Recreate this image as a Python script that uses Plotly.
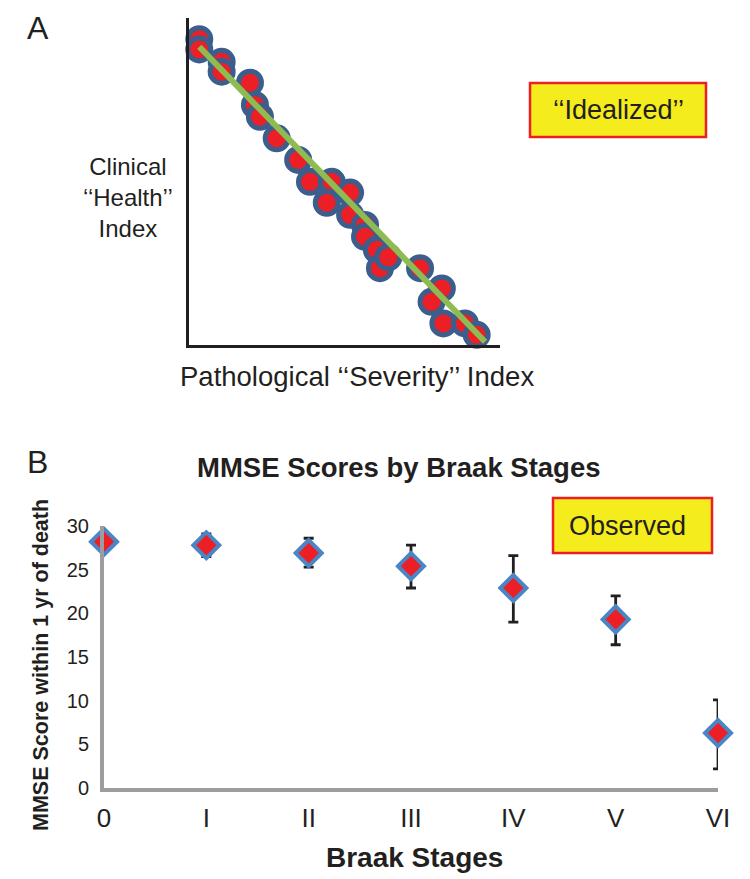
import plotly.graph_objects as go

# panel A - idealized scatter (arbitrary index units, 0-100)
severity = [3.3, 3.3, 10.5, 10.5, 19.6, 21.2, 22.8, 28.2, 35.1, 38.9, 45.9, 51.8, 44.3,
            51.8, 56.6, 56.6, 60.4, 61.4, 64.1, 74.3, 81.3, 78.0, 81.8, 88.7, 92.5]
health = [93.5, 90.4, 86.6, 83.6, 80.2, 73.4, 69.8, 63.2, 56.6, 49.9, 49.9, 46.6, 43.5,
          39.8, 36.7, 33.1, 29.1, 23.5, 26.8, 23.5, 17.3, 13.2, 6.6, 6.6, 3.1]
fit_x = [3.3, 95.2]
fit_y = [91.2, 1.0]

# panel B - observed MMSE by Braak stage
stages = ["0", "I", "II", "III", "IV", "V", "VI"]
mmse = [28.2, 27.8, 26.9, 25.4, 22.9, 19.3, 6.3]
err_up = [0, 1.3, 1.7, 2.4, 3.7, 2.7, 3.8]
err_down = [0, 1.3, 1.6, 2.5, 3.9, 2.9, 4.1]

FONT = "Arial, Liberation Sans, sans-serif"
RED = "#ec1f26"
INK = "#231f20"
# the page body has an 8px margin, so the figure is drawn 8px smaller and offset
OFF = 8
W, H = 750 - OFF, 879 - OFF


def px(x):
    return (x - OFF) / W


def py(y):
    return 1 - (y - OFF) / H


fig = go.Figure()

fig.add_trace(go.Scatter(
    x=severity, y=health, mode="markers", xaxis="x", yaxis="y",
    marker=dict(size=23, color=RED, line=dict(color="#3b5e8c", width=5)),
    cliponaxis=False, showlegend=False))
fig.add_trace(go.Scatter(
    x=fit_x, y=fit_y, mode="lines", xaxis="x", yaxis="y",
    line=dict(color="#8fbc52", width=6), cliponaxis=False, showlegend=False))

fig.add_trace(go.Scatter(
    x=list(range(len(stages))), y=mmse, mode="markers", xaxis="x2", yaxis="y2",
    marker=dict(symbol="diamond", size=20, color=RED, line=dict(color="#4a86c6", width=4)),
    error_y=dict(type="data", symmetric=False, array=err_up, arrayminus=err_down,
                 color=INK, thickness=2.8, width=5),
    cliponaxis=False, showlegend=False))

fig.update_layout(
    width=W, height=H,
    margin=dict(l=0, r=0, t=0, b=0, autoexpand=False),
    paper_bgcolor="white", plot_bgcolor="white",
    font=dict(family=FONT, color=INK),
    xaxis=dict(domain=[px(189), px(500)], range=[0, 100], showgrid=False, zeroline=False,
               showticklabels=False, showline=True, linecolor=INK, linewidth=3,
               automargin=False),
    yaxis=dict(domain=[py(345), py(18)], range=[0, 100], showgrid=False, zeroline=False,
               showticklabels=False, showline=True, linecolor=INK, linewidth=3,
               automargin=False),
    xaxis2=dict(domain=[px(104), px(718)], range=[0, 6], showgrid=False, zeroline=False,
                showline=True, linecolor="#9d9d9d", linewidth=4, anchor="y2",
                tickmode="array", tickvals=list(range(len(stages))), ticktext=stages,
                tickfont=dict(size=26, color=INK), ticks="", ticklabelstandoff=4,
                automargin=False),
    yaxis2=dict(domain=[py(788), py(526)], range=[0, 30], showgrid=False, zeroline=False,
                showline=True, linecolor="#9d9d9d", linewidth=4, anchor="x2",
                tickvals=[0, 5, 10, 15, 20, 25, 30], ticks="",
                tickfont=dict(size=20, color=INK), ticklabelstandoff=7,
                automargin=False),
)

annots = [
    dict(x=38, y=28, text="A", size=32),
    dict(x=38, y=462, text="B", size=32),
    dict(x=128, y=197, text="Clinical<br>\u2018\u2018Health\u2019\u2019<br>Index", size=24),
    dict(x=357, y=376, text="Pathological \u2018\u2018Severity\u2019\u2019 Index", size=27.5),
    dict(x=399, y=467, text="<b>MMSE Scores by Braak Stages</b>", size=27.5),
    dict(x=415, y=857, text="<b>Braak Stages</b>", size=28),
    dict(x=41, y=665, text="<b>MMSE Score within 1 yr of death</b>", size=21.5, angle=-90),
]
for a in annots:
    fig.add_annotation(x=px(a["x"]), y=py(a["y"]), xref="paper", yref="paper",
                       text=a["text"], showarrow=False, xanchor="center", yanchor="middle",
                       textangle=a.get("angle", 0),
                       font=dict(size=a["size"], family=FONT, color=INK))

# label boxes
boxes = [
    (530, 83, 706, 137, 618, "\u2018\u2018Idealized\u2019\u2019"),
    (553, 498, 712, 553, 627, "Observed"),
]
for x0, y0, x1, y1, tx, txt in boxes:
    fig.add_shape(type="rect", xref="paper", yref="paper",
                  x0=px(x0), x1=px(x1), y0=py(y0), y1=py(y1),
                  fillcolor="#f4ec1c", line=dict(color=RED, width=2.5), layer="above")
    fig.add_annotation(x=px(tx), y=py((y0 + y1) / 2),
                       xref="paper", yref="paper", text=txt, showarrow=False,
                       xanchor="center", yanchor="middle",
                       font=dict(size=27, family=FONT, color=INK))

fig.write_html("out.html")
